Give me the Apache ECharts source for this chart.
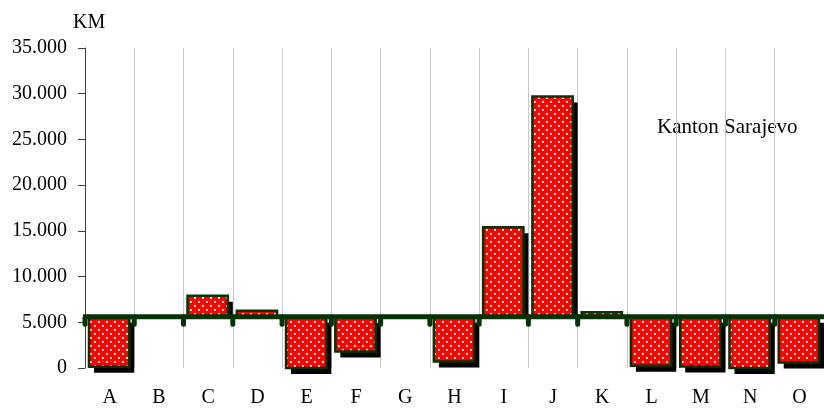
<!DOCTYPE html>
<html><head><meta charset="utf-8">
<script src="https://cdn.jsdelivr.net/npm/echarts@6/dist/echarts.min.js"></script>
<style>html,body{margin:0;padding:0;background:#fff}#c{width:824px;height:409px}</style>
</head><body><div id="c"></div><script>
const categories = ['A','B','C','D','E','F','G','H','I','J','K','L','M','N','O'];
const values = [150, 5600, 7900, 6250, 0, 1800, 5600, 700, 15400, 29700, 6100, 250, 175, 0, 600];
const baseline = 5600;
const yMin = 0, yMax = 35000, yStep = 5000;
const unitLabel = 'KM';
const regionLabel = 'Kanton Sarajevo';

const FONT = '"Liberation Serif", "DejaVu Serif", serif';
const GREEN = '#053305';

// dotted red fill pattern
const tile = document.createElement('canvas');
tile.width = 8; tile.height = 8;
const tc = tile.getContext('2d');
tc.fillStyle = '#ff0000'; tc.fillRect(0,0,8,8);
tc.fillStyle = '#ffd6d6';
tc.fillRect(2,1,2,2); tc.fillRect(6,5,2,2);
tc.fillStyle = '#ffffff';
tc.fillRect(2,1,1,1); tc.fillRect(6,5,1,1);
const pattern = {image: tile, repeat: 'repeat'};

function renderItem(params, api){
  const i = api.value(0), v = api.value(1);
  const pBase = api.coord([i, baseline]);
  const pVal = api.coord([i, v]);
  const band = api.size([1,0])[0];
  const left = pBase[0] - band/2;
  const bx = left + 4, bw = band - 9;
  const children = [];
  const h = pVal[1] - pBase[1];
  if (Math.abs(h) >= 1) {
    if (h < 0) {
      children.push({type:'rect', shape:{x:bx+5, y:pVal[1]+6, width:bw, height:Math.max(0,-h-6)}, style:{fill:'#000'}});
      children.push({type:'rect', shape:{x:bx, y:pVal[1], width:bw, height:-h}, style:{fill:pattern, stroke:GREEN, lineWidth:2.5}});
    } else {
      children.push({type:'rect', shape:{x:bx+5, y:pBase[1]+6, width:bw, height:h}, style:{fill:'#000'}});
      children.push({type:'rect', shape:{x:bx, y:pBase[1], width:bw, height:h}, style:{fill:pattern, stroke:GREEN, lineWidth:2.5}});
    }
  }
  const extra = i === 0 ? 2 : 0;
  children.push({type:'rect', z2:10, shape:{x:left-extra, y:pBase[1]-2.5, width:band+extra+1, height:5}, style:{fill:GREEN}});
  children.push({type:'rect', z2:10, shape:{x:left-2.5, y:pBase[1], width:5, height:10, r:[0,0,2.5,2.5]}, style:{fill:GREEN}});
  return {type:'group', children};
}

const chart = echarts.init(document.getElementById('c'), null, {renderer:'canvas'});
chart.setOption({
  animation:false,
  backgroundColor:'#fff',
  grid:{left:85, top:48, width:748, height:320, containLabel:false},
  xAxis:{
    type:'category', data:categories, boundaryGap:true,
    axisLine:{show:false}, axisTick:{show:false},
    axisLabel:{color:'#000', fontSize:20, fontFamily:FONT, margin:20, interval:0},
    splitLine:{show:true, interval:0, lineStyle:{color:'#c8c8c8', width:1}}
  },
  yAxis:{
    type:'value', min:yMin, max:yMax, interval:yStep,
    axisLine:{show:true, lineStyle:{color:'#404040', width:1}},
    axisTick:{show:true, length:7, lineStyle:{color:'#404040'}},
    splitLine:{show:false},
    axisLabel:{color:'#000', fontSize:20, fontFamily:FONT, margin:18,
      formatter:v => v === 0 ? '0' : (v/1000) + '.000'}
  },
  graphic:[
    {type:'text', left:73, top:13, style:{text:unitLabel, fill:'#000', font:'20px ' + FONT}},
    {type:'text', left:657, top:117, style:{text:regionLabel, fill:'#000', font:'21px ' + FONT}}
  ],
  series:[{
    type:'custom', renderItem, encode:{x:0, y:1},
    data: values.map((v,i)=>[i,v])
  }]
});
</script></body></html>
